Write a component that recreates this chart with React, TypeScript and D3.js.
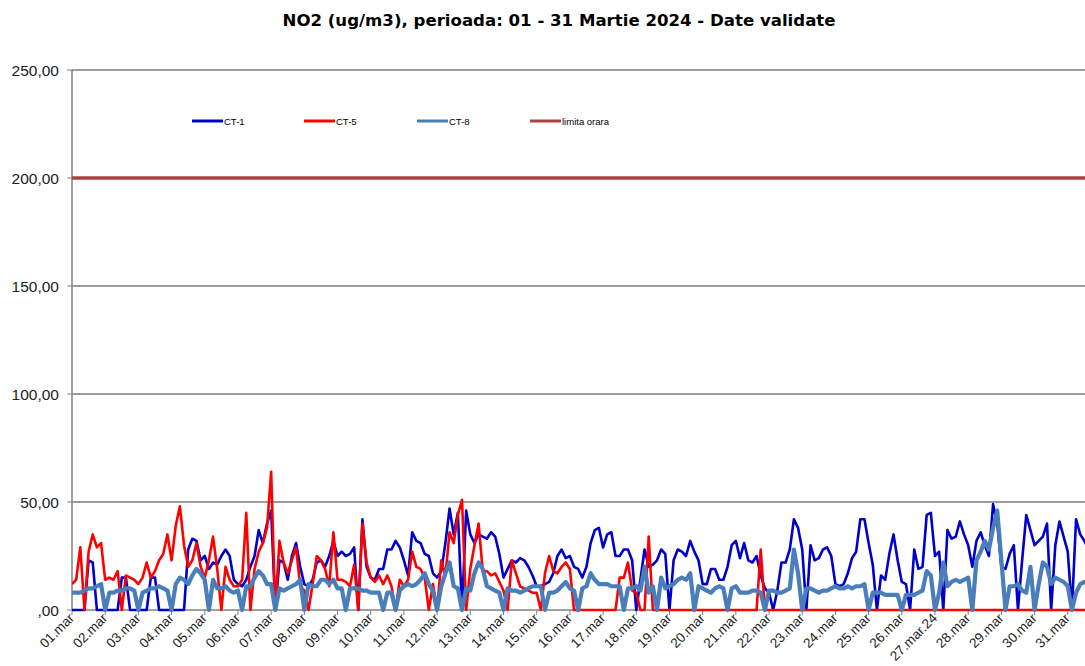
import React from 'react';
import * as d3 from 'd3';

const dayLabels = [
  "01.mar","02.mar","03.mar","04.mar","05.mar","06.mar","07.mar","08.mar","09.mar","10.mar",
  "11.mar","12.mar","13.mar","14.mar","15.mar","16.mar","17.mar","18.mar","19.mar","20.mar",
  "21.mar","22.mar","23.mar","24.mar","25.mar","26.mar","27.mar.24","28.mar","29.mar","30.mar","31.mar"
];

const yTicks = [0, 50, 100, 150, 200, 250];
const STEP_HOURS = 3;
const limitaOrara = 200;

// CT-1, 3-hourly values, 8 per day
const ct1 = [
  0,0,0,0,23,22,0,0,
  0,0,0,0,15,15,0,0,
  0,0,0,15,15,0,0,0,
  0,0,0,0,28,33,32,23,
  25,19,22,21,25,28,25,14,
  12,11,14,20,25,37,31,40,
  46,0,23,22,14,25,31,20,
  12,11,14,22,23,20,25,32,
  25,27,25,26,29,0,42,20,
  15,14,19,19,28,28,32,29,
  23,16,36,32,31,26,25,17,
  15,18,31,47,35,45,0,46,
  35,31,35,34,33,36,34,26,
  15,19,23,22,24,23,20,16,
  11,11,12,13,17,25,28,24,
  25,20,19,15,20,31,37,38,
  29,35,36,25,25,28,28,23,
  0,14,28,20,21,23,28,26,
  0,23,28,27,25,32,27,23,
  12,12,19,19,14,14,20,30,
  32,24,31,23,22,25,16,10,
  8,0,9,22,22,28,42,38,
  28,0,30,23,24,28,29,25,
  12,11,12,17,24,27,42,42,
  31,21,0,16,14,26,35,23,
  13,12,0,28,19,20,44,45,
  25,27,0,37,33,34,41,35,
  30,20,32,36,30,25,49,40,
  20,19,26,30,0,23,44,37,
  30,32,34,40,0,30,41,34,
  27,0,42,35,32,28,30,25
];

// CT-5
const ct5 = [
  12,14,29,0,27,35,29,31,
  14,15,14,18,0,16,15,14,
  12,15,22,15,18,23,26,35,
  23,39,48,30,20,23,31,20,
  15,23,34,19,0,20,14,11,
  11,14,45,0,19,27,31,38,
  64,0,32,22,17,23,29,11,
  9,0,12,25,23,19,11,36,
  14,14,13,11,21,0,40,22,
  15,13,16,12,16,11,0,14,
  11,14,27,20,19,15,0,12,
  0,23,16,36,31,44,51,0,
  19,30,40,18,18,16,17,13,
  9,0,23,17,11,10,9,8,
  8,0,17,25,18,17,20,22,
  19,0,0,0,0,0,0,0,
  0,0,0,0,15,15,22,9,
  8,0,0,34,0,0,0,0,
  0,0,0,0,0,0,0,0,
  0,0,0,0,0,0,0,0,
  0,0,0,0,0,0,28,0,
  0,0,0,0,0,0,0,0,
  0,0,0,0,0,0,0,0,
  0,0,0,0,0,0,0,0,
  0,0,0,0,0,0,0,0,
  0,0,0,0,0,0,0,0,
  0,0,0,0,0,0,0,0,
  0,0,0,0,0,0,0,0,
  0,0,0,0,0,0,0,0,
  0,0,0,0,0,0,0,0,
  0,0,0,0,0,0,0,0
];

// CT-8
const ct8 = [
  8,8,8,9,10,10,11,12,
  0,8,8,9,9,10,10,9,
  0,8,9,10,10,11,10,9,
  0,12,15,14,12,16,19,17,
  14,0,14,10,10,11,9,8,
  9,0,11,11,15,18,16,12,
  12,0,10,9,10,11,12,14,
  0,12,11,11,14,14,12,14,
  10,10,0,10,10,10,9,9,
  8,8,8,0,8,8,0,9,
  11,12,11,12,14,17,12,9,
  0,11,17,22,11,10,0,10,
  9,17,22,19,11,10,9,8,
  0,10,9,9,8,9,10,11,
  11,11,0,8,8,9,11,13,
  10,9,0,10,11,17,14,12,
  12,12,11,11,11,0,10,10,
  11,9,20,8,11,0,15,10,
  11,12,14,15,14,17,0,11,
  10,9,8,10,11,10,0,10,
  11,8,8,8,9,9,8,0,
  9,9,8,8,9,10,28,17,
  0,10,10,9,8,9,9,10,
  11,10,10,11,10,11,11,12,
  0,8,8,8,7,7,7,7,
  0,7,7,7,8,9,18,16,
  0,8,22,11,13,14,13,14,
  15,0,23,27,32,28,38,46,
  23,0,11,11,12,9,8,20,
  0,12,22,20,12,15,14,13,
  11,0,8,12,13,12,11,10
];

const seriesNames = ["CT-1", "CT-5", "CT-8", "limita orara"];
const seriesColors = ["#0000CC", "#FF0000", "#4A7EBB", "#A94442"];

export default function App() {
  const W = 1085, H = 666;
  const left = 72, top = 70, bottom = 610;
  const hourPx = 1.383;
  const totalHours = dayLabels.length * 24;
  const x = d3.scaleLinear().domain([0, totalHours]).range([left, left + totalHours * hourPx]);
  const y = d3.scaleLinear().domain([0, 250]).range([bottom, top]);
  const line = d3.line<number>().x((_, i) => x(i * STEP_HOURS)).y(d => y(d));
  const fmt = (v: number) => (v === 0 ? ",00" : v.toFixed(2).replace(".", ","));
  const font = "'Liberation Sans', Arial, sans-serif";
  const legendX = [192, 304, 417, 530];

  return (
    <svg width={W} height={H} style={{ position: 'absolute', left: 0, top: 0, background: '#fff' }}>
      <defs>
        <clipPath id="plotclip">
          <rect x={left} y={0} width={W - left} height={H - 40} />
        </clipPath>
      </defs>
      <rect x={0} y={0} width={W} height={H} fill="#fff" />
      <text x={559} y={26} textAnchor="middle" fontFamily="'DejaVu Sans', Verdana, sans-serif"
        fontWeight="bold" fontSize={16} textLength={553} lengthAdjust="spacingAndGlyphs" fill="#000">
        NO2 (ug/m3), perioada: 01 - 31 Martie 2024 - Date validate
      </text>

      {yTicks.filter(t => t > 0).map(t => (
        <line key={t} x1={left} x2={W} y1={y(t)} y2={y(t)} stroke="#3a3a3a" strokeWidth={1} />
      ))}
      {yTicks.map(t => (
        <g key={'yl' + t}>
          <line x1={left - 5} x2={left} y1={y(t)} y2={y(t)} stroke="#808080" strokeWidth={1} />
          <text x={59} y={y(t)} dy="0.36em" textAnchor="end" fontFamily={font} fontSize={15.5} fill="#222">{fmt(t)}</text>
        </g>
      ))}
      <line x1={left} x2={left} y1={top} y2={bottom} stroke="#808080" strokeWidth={1.5} />
      <line x1={left} x2={W} y1={bottom} y2={bottom} stroke="#808080" strokeWidth={1.5} />
      {dayLabels.map((lab, i) => {
        const tx = x(i * 24);
        return (
          <g key={lab}>
            <line x1={tx} x2={tx} y1={bottom} y2={bottom + 5} stroke="#808080" strokeWidth={1} />
            <text transform={`translate(${tx + 3},${bottom + 9}) rotate(-45)`} textAnchor="end"
              fontFamily={font} fontSize={13.5} fill="#222">{lab}</text>
          </g>
        );
      })}

      <g clipPath="url(#plotclip)" fill="none" strokeLinejoin="round">
        <path d={line(ct1) || ''} stroke={seriesColors[0]} strokeWidth={2.6} />
        <path d={line(ct5) || ''} stroke={seriesColors[1]} strokeWidth={2.6} />
        <path d={line(ct8) || ''} stroke={seriesColors[2]} strokeWidth={4.2} />
        <line x1={x(0)} x2={x(totalHours)} y1={y(limitaOrara)} y2={y(limitaOrara)} stroke={seriesColors[3]} strokeWidth={3.5} />
      </g>

      {seriesNames.map((n, i) => (
        <g key={n}>
          <line x1={legendX[i]} x2={legendX[i] + 31} y1={121} y2={121} stroke={seriesColors[i]} strokeWidth={3} />
          <text x={legendX[i] + 32} y={124.5} fontFamily={font} fontSize={9.5} fill="#000">{n}</text>
        </g>
      ))}
    </svg>
  );
}
